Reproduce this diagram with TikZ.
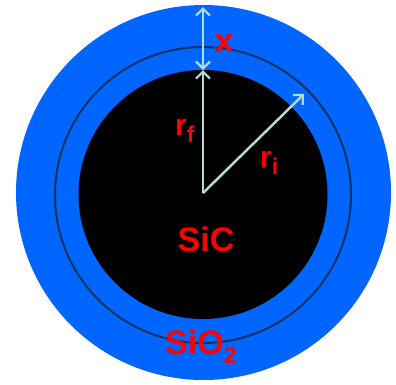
\documentclass[tikz,border=0pt]{standalone}
\usepackage{fontspec}
\setmainfont{Liberation Sans}
\usetikzlibrary{arrows.meta}
\definecolor{oxblue}{RGB}{0,102,255}
\definecolor{ringc}{RGB}{20,50,95}
\definecolor{arrc}{RGB}{178,218,216}
\definecolor{lab}{RGB}{255,0,0}
\newcommand{\subsc}[2][-7pt]{{\fontsize{23}{23}\selectfont\raisebox{#1}{#2}}}
\tikzset{
  tipb/.tip={Straight Barb[length=7pt,width=14pt,line width=2.2pt]},
  arr/.style={draw=arrc, line width=2.5pt, -tipb},
  darr/.style={draw=arrc, line width=2.5pt, tipb-tipb},
  lbl/.style={text=lab, font=\bfseries\fontsize{34}{34}\selectfont, inner sep=0pt},
  rlbl/.style={text=lab, font=\bfseries\fontsize{30}{30}\selectfont, inner sep=0pt, anchor=base west},
}
\begin{document}
\begin{tikzpicture}[x=1pt,y=-1pt]
\useasboundingbox (0,0) rectangle (396,384);
\fill[oxblue] (203.5,192.5) circle (187.5);
\draw[ringc, line width=2pt] (203,195) circle (148);
\fill[black] (203,194.5) circle (124.5);
\coordinate (c) at (203,193);
\coordinate (t) at (203,70);
\coordinate (o) at (203,7);
\coordinate (d) at (304,94);
\draw[arr] (c) -- (t);
\draw[arr] (c) -- (d);
\draw[darr] (t) -- (o);
\node[lbl] (x) at (224,44) {x};
\node[rlbl] (rf) at (175,135) {r\subsc{f}};
\node[rlbl] (ri) at (260,167) {r\subsc{i}};
\node[lbl] (sic) at (206,239) {SiC};
\node[lbl, anchor=base west] (sio) at (165,354) {SiO\subsc[-9pt]{2}};
\end{tikzpicture}
\end{document}
